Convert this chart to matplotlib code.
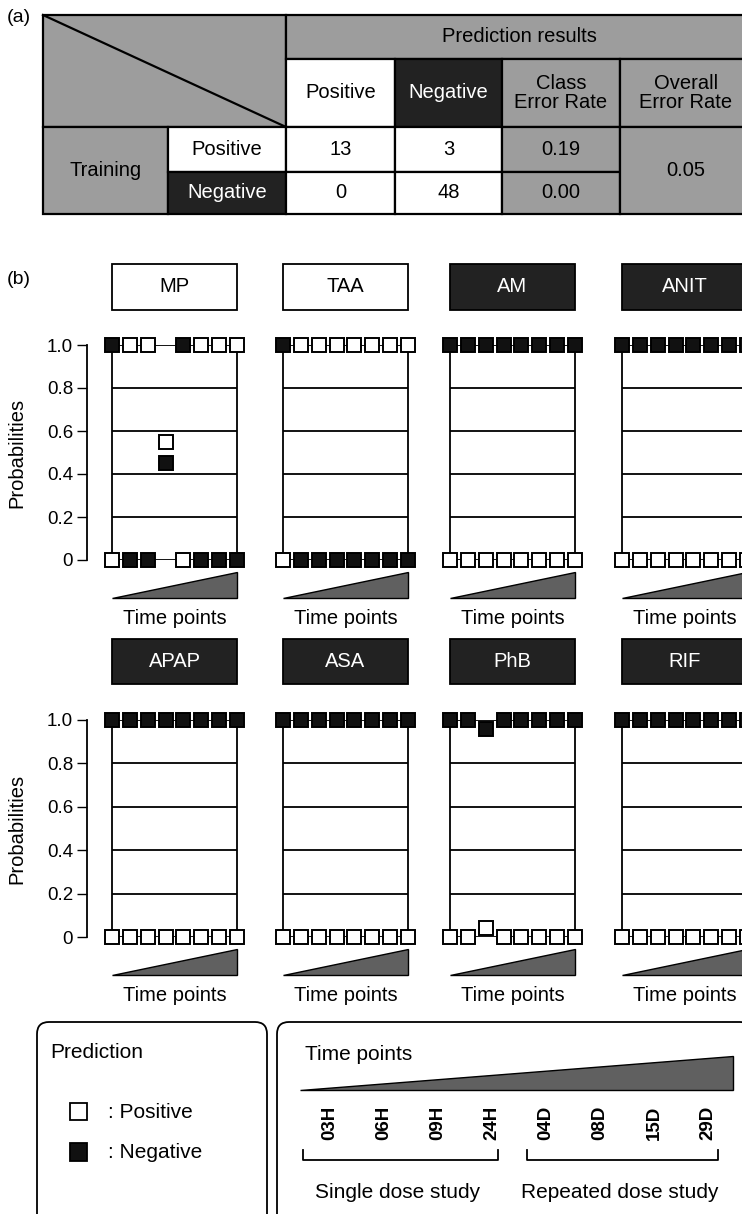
import matplotlib
matplotlib.use("Agg")
import matplotlib.pyplot as plt
from matplotlib.patches import Rectangle, Polygon, FancyBboxPatch
import numpy as np

plt.rcParams['font.family'] = ['Liberation Sans', 'DejaVu Sans']

# (a) confusion table
pred_labels = ['Positive', 'Negative']
train_labels = ['Positive', 'Negative']
conf_counts = [[13, 3], [0, 48]]
class_error = [0.19, 0.00]
overall_error = 0.05

# (b) per-compound predicted probabilities over 8 time points
drugs = ['MP', 'TAA', 'AM', 'ANIT', 'APAP', 'ASA', 'PhB', 'RIF']
true_class = ['Positive', 'Positive', 'Negative', 'Negative',
              'Negative', 'Negative', 'Negative', 'Negative']
time_points = ['03H', '06H', '09H', '24H', '04D', '08D', '15D', '29D']
prob_positive = {
    'MP':   [0.0, 1.0, 1.0, 0.55, 0.0, 1.0, 1.0, 1.0],
    'TAA':  [0.0, 1.0, 1.0, 1.0, 1.0, 1.0, 1.0, 1.0],
    'AM':   [0.0, 0.0, 0.0, 0.0, 0.0, 0.0, 0.0, 0.0],
    'ANIT': [0.0, 0.0, 0.0, 0.0, 0.0, 0.0, 0.0, 0.0],
    'APAP': [0.0, 0.0, 0.0, 0.0, 0.0, 0.0, 0.0, 0.0],
    'ASA':  [0.0, 0.0, 0.0, 0.0, 0.0, 0.0, 0.0, 0.0],
    'PhB':  [0.0, 0.0, 0.04, 0.0, 0.0, 0.0, 0.0, 0.0],
    'RIF':  [0.0, 0.0, 0.0, 0.0, 0.0, 0.0, 0.0, 0.0],
}
yticks = [0, 0.2, 0.4, 0.6, 0.8, 1.0]
ytick_labels = ['0', '0.2', '0.4', '0.6', '0.8', '1.0']

GRAY = '#9d9d9d'
DARK = '#222222'
WEDGE = '#606060'
FS = 14.5

W, H = 742, 1214
fig = plt.figure(figsize=(W / 100, H / 100), dpi=100)

ov = fig.add_axes([0, 0, 1, 1])
ov.set_xlim(0, W)
ov.set_ylim(H, 0)
ov.axis('off')


def px_axes(x0, y0, x1, y1):
    return fig.add_axes([x0 / W, 1 - y1 / H, (x1 - x0) / W, (y1 - y0) / H])


def cell(x0, y0, x1, y1, fc, text=None, tc='black'):
    ov.add_patch(Rectangle((x0, y0), x1 - x0, y1 - y0, fc=fc, ec='black', lw=1.6))
    if text is not None:
        ov.text((x0 + x1) / 2, (y0 + y1) / 2, text, ha='center', va='center',
                color=tc, fontsize=FS, linespacing=1.0)


# ---- table (a) ----
cx = [43, 168, 286, 395, 502, 620, 752]
ry = [15, 59, 127, 172, 214]
ov.text(7, 18, '(a)', fontsize=14, va='center')
cell(cx[0], ry[0], cx[2], ry[2], GRAY)
ov.plot([cx[0], cx[2]], [ry[0], ry[2]], color='black', lw=1.6)
cell(cx[2], ry[0], cx[6], ry[1], GRAY, 'Prediction results')
cell(cx[2], ry[1], cx[3], ry[2], 'white', pred_labels[0])
cell(cx[3], ry[1], cx[4], ry[2], DARK, pred_labels[1], 'white')
cell(cx[4], ry[1], cx[5], ry[2], GRAY, 'Class\nError Rate')
cell(cx[5], ry[1], cx[6], ry[2], GRAY, 'Overall\nError Rate')
cell(cx[0], ry[2], cx[1], ry[4], GRAY, 'Training')
for i, lab in enumerate(train_labels):
    y0, y1 = ry[2 + i], ry[3 + i]
    if lab == 'Positive':
        cell(cx[1], y0, cx[2], y1, 'white', lab)
    else:
        cell(cx[1], y0, cx[2], y1, DARK, lab, 'white')
    for j in range(2):
        cell(cx[2 + j], y0, cx[3 + j], y1, 'white', str(conf_counts[i][j]))
    cell(cx[4], y0, cx[5], y1, GRAY, f'{class_error[i]:.2f}')
cell(cx[5], ry[2], cx[6], ry[4], GRAY, f'{overall_error:.2f}')

# ---- panels (b) ----
ov.text(7, 279, '(b)', fontsize=14, va='center')
col_left = [112, 283, 450, 622]
row_span = [(345, 560), (720, 937)]
x = np.arange(len(time_points))

for k, drug in enumerate(drugs):
    r, c = divmod(k, 4)
    top, bot = row_span[r]
    ax = px_axes(col_left[c], top, col_left[c] + 125, bot)
    ax.set_xlim(0, len(time_points) - 1)
    ax.set_ylim(0, 1)
    ax.patch.set_visible(False)
    for s in ax.spines.values():
        s.set_visible(False)
    ax.set_xticks([])
    ax.set_yticks(yticks)
    ax.set_axisbelow(True)
    ax.grid(axis='y', color='black', lw=1.3)
    ax.axvline(0, color='black', lw=1.3, clip_on=False)
    ax.axvline(len(time_points) - 1, color='black', lw=1.3, clip_on=False)
    if c == 0:
        ax.spines['left'].set_visible(True)
        ax.spines['left'].set_position(('outward', 18))
        ax.spines['left'].set_bounds(0, 1)
        ax.spines['left'].set_linewidth(1.3)
        ax.set_yticklabels(ytick_labels)
        ax.tick_params(axis='y', direction='out', length=7, width=1, labelsize=13.5, pad=3)
        ov.text(17, (top + bot) / 2, 'Probabilities', rotation=90,
                ha='center', va='center', fontsize=FS)
    else:
        ax.tick_params(axis='y', left=False, labelleft=False)

    pos = np.array(prob_positive[drug])
    neg = 1 - pos
    ax.plot(x, neg, 's', ms=10.3, mfc='#111111', mec='black', mew=1.4,
            clip_on=False, zorder=3)
    ax.plot(x, pos, 's', ms=10.3, mfc='white', mec='black', mew=1.4,
            clip_on=False, zorder=4)

    # title box
    positive = true_class[k] == 'Positive'
    ax.add_patch(Rectangle((0, 1.165), 7, 0.21, fc='white' if positive else DARK,
                           ec='black', lw=1.3, clip_on=False))
    ax.text(3.5, 1.27, drug, ha='center', va='center', fontsize=FS,
            color='black' if positive else 'white')

    # time wedge + label
    ax.add_patch(Polygon([(0, -0.175), (7, -0.175), (7, -0.055)], closed=True,
                         fc=WEDGE, ec='black', lw=1, clip_on=False))
    ax.text(3.5, -0.27, 'Time points', ha='center', va='center', fontsize=FS)

# ---- legend boxes ----
ov.add_patch(FancyBboxPatch((37, 1022), 230, 210, boxstyle='round,pad=0,rounding_size=12',
                            fc='white', ec='black', lw=1.3))
ov.text(50, 1053, 'Prediction', fontsize=15, va='center')
ov.add_patch(Rectangle((70, 1103), 17, 17, fc='white', ec='black', lw=1.3))
ov.text(108, 1112, ': Positive', fontsize=15, va='center')
ov.add_patch(Rectangle((70, 1143), 17, 18, fc='#111111', ec='black', lw=1.3))
ov.text(108, 1153, ': Negative', fontsize=15, va='center')

ov.add_patch(FancyBboxPatch((277, 1022), 475, 210, boxstyle='round,pad=0,rounding_size=12',
                            fc='white', ec='black', lw=1.3))
ov.text(305, 1055, 'Time points', fontsize=15, va='center')
ov.add_patch(Polygon([(300, 1090), (733, 1090), (733, 1056)], closed=True,
                     fc=WEDGE, ec='black', lw=1))
tx = np.linspace(330, 708, len(time_points))
for xx, lab in zip(tx, time_points):
    ov.text(xx, 1123, lab, rotation=90, ha='center', va='center',
            fontsize=13.5, fontweight='bold')
for x0, x1 in [(303, 498), (527, 718)]:
    ov.plot([x0, x0, x1, x1], [1150, 1160, 1160, 1150], color='black', lw=1.3)
ov.text(398, 1193, 'Single dose study', ha='center', va='center', fontsize=15)
ov.text(620, 1193, 'Repeated dose study', ha='center', va='center', fontsize=15)

fig.savefig('out.png', dpi=100)
